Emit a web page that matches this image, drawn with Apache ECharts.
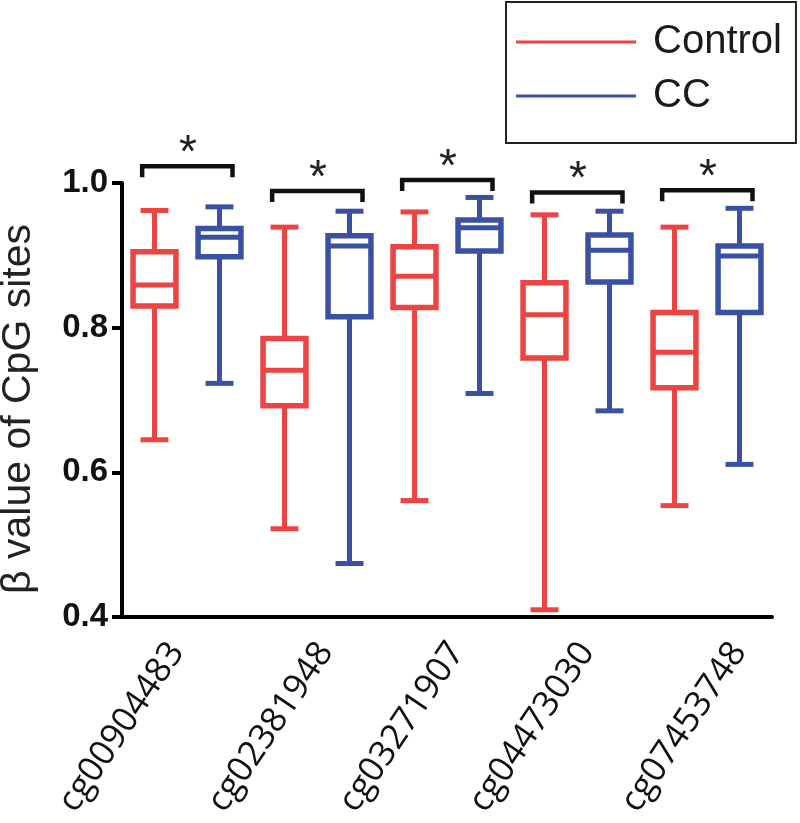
<!DOCTYPE html>
<html><head><meta charset="utf-8">
<script src="https://cdn.jsdelivr.net/npm/echarts@6/dist/echarts.min.js"></script>
<style>html,body{margin:0;padding:0;background:#fff}#c{width:800px;height:823px}</style>
</head><body><div id="c"></div>
<script>
// Categories (CpG sites)
const categories = ['cg00904483','cg02381948','cg03271907','cg04473030','cg07453748'];
// Box stats per category: [min, Q1, median, Q3, max]
const controlMin    = [0.645, 0.522, 0.561, 0.410, 0.554];
const controlQ1     = [0.830, 0.692, 0.828, 0.758, 0.717];
const controlMedian = [0.859, 0.741, 0.871, 0.818, 0.766];
const controlQ3     = [0.905, 0.785, 0.912, 0.862, 0.821];
const controlMax    = [0.962, 0.939, 0.960, 0.956, 0.939];
const ccMin    = [0.723, 0.474, 0.709, 0.685, 0.611];
const ccQ1     = [0.898, 0.815, 0.906, 0.863, 0.821];
const ccMedian = [0.925, 0.913, 0.938, 0.907, 0.899];
const ccQ3     = [0.937, 0.927, 0.949, 0.928, 0.913];
const ccMax    = [0.967, 0.961, 0.980, 0.961, 0.965];
// Significance brackets (height in β units) and labels
const bracketLevel = [1.023, 0.989, 1.004, 0.987, 0.990];
const bracketLabel = ['*','*','*','*','*'];
// Y ticks
const yMin = 0.4, yMax = 1.0, yStep = 0.2;

const RED = '#EC4343', BLUE = '#3A50A3';
// layout: small horizontal nudges of the rotated tick labels (in category widths)
const labelNudge = [-0.08, 0.067, 0.077, 0.077, 0.246];

function rows(mn, q1, md, q3, mx) {
  return categories.map((c, i) => [i, mn[i], q1[i], md[i], q3[i], mx[i]]);
}

function boxRenderer(side, color) {
  return function (params, api) {
    const cat = api.value(0);
    const band = api.size([1, 0])[0];
    const cx = api.coord([cat, yMin])[0] + side * band * 0.25;
    const y = v => api.coord([cat, v])[1];
    const bw = band * 0.33, cw = band * 0.215;
    const yMn = y(api.value(1)), yQ1 = y(api.value(2)), yMd = y(api.value(3)),
          yQ3 = y(api.value(4)), yMx = y(api.value(5));
    const st = { stroke: color, lineWidth: 5, fill: null };
    return {
      type: 'group',
      children: [
        { type: 'line', shape: { x1: cx, y1: yMx, x2: cx, y2: yQ3 }, style: st },
        { type: 'line', shape: { x1: cx, y1: yQ1, x2: cx, y2: yMn }, style: st },
        { type: 'line', shape: { x1: cx - cw / 2, y1: yMx, x2: cx + cw / 2, y2: yMx }, style: st },
        { type: 'line', shape: { x1: cx - cw / 2, y1: yMn, x2: cx + cw / 2, y2: yMn }, style: st },
        { type: 'rect', shape: { x: cx - bw / 2, y: yQ3, width: bw, height: yQ1 - yQ3 },
          style: { stroke: color, lineWidth: 5.5, fill: '#fff' } },
        { type: 'line', shape: { x1: cx - bw / 2, y1: yMd, x2: cx + bw / 2, y2: yMd }, style: st }
      ]
    };
  };
}

const chart = echarts.init(document.getElementById('c'), null, { renderer: 'canvas' });
chart.setOption({
  animation: false,
  backgroundColor: '#fff',
  grid: { left: 122, top: 183, width: 650, height: 434, containLabel: false, outerBoundsMode: 'none' },
  legend: {
    data: ['Control', 'CC'],
    orient: 'vertical',
    left: 506, top: 2,
    padding: [20, 14, 27, 10],
    borderColor: '#222', borderWidth: 2,
    itemGap: 14,
    itemWidth: 120, itemHeight: 3,
    icon: 'rect',
    textStyle: { fontSize: 40, fontFamily: 'Liberation Sans', color: '#1a1a1a', padding: [0, 0, 0, 12] }
  },
  xAxis: [{
    type: 'category',
    data: categories,
    position: 'bottom',
    axisLine: { onZero: false, lineStyle: { color: '#000', width: 4 } },
    axisTick: { show: false },
    axisLabel: { show: false }
  }, {
    type: 'value',
    position: 'bottom',
    min: -0.5, max: categories.length - 0.5,
    axisLine: { show: false, onZero: false },
    axisTick: { show: false },
    splitLine: { show: false },
    axisLabel: {
      rotate: 56, fontSize: 35, fontFamily: 'Open Sans', color: '#111', margin: 29,
      customValues: categories.map((c, i) => i + labelNudge[i]),
      formatter: v => categories[Math.round(v)] || ''
    }
  }],
  yAxis: {
    type: 'value', min: yMin, max: yMax, interval: yStep,
    name: 'β value of CpG sites',
    nameLocation: 'middle', nameRotate: 90, nameGap: 83,
    nameTextStyle: { fontSize: 41, fontFamily: 'Liberation Sans', color: '#222', padding: [0, 18, 0, 0] },
    splitLine: { show: false },
    axisLine: { show: true, onZero: false, lineStyle: { color: '#000', width: 4 } },
    axisTick: { show: true, length: 10, lineStyle: { color: '#000', width: 4 } },
    axisLabel: { fontSize: 33, fontWeight: 'bold', fontFamily: 'Liberation Sans', color: '#111', margin: 14,
      formatter: v => v.toFixed(1) }
  },
  series: [
    { name: 'Control', type: 'custom', itemStyle: { color: RED },
      encode: { x: 0, y: [1, 2, 3, 4, 5] },
      data: rows(controlMin, controlQ1, controlMedian, controlQ3, controlMax),
      renderItem: boxRenderer(-1, RED), clip: false },
    { name: 'CC', type: 'custom', itemStyle: { color: BLUE },
      encode: { x: 0, y: [1, 2, 3, 4, 5] },
      data: rows(ccMin, ccQ1, ccMedian, ccQ3, ccMax),
      renderItem: boxRenderer(1, BLUE), clip: false },
    { name: 'sig', type: 'custom', clip: false, silent: true,
      encode: { x: 0, y: 1 },
      data: categories.map((c, i) => [i, bracketLevel[i]]),
      renderItem: function (params, api) {
        const cat = api.value(0);
        const band = api.size([1, 0])[0];
        const p = api.coord([cat, api.value(1)]);
        const cx = p[0], by = p[1];
        const l = cx - band * 0.345, r = cx + band * 0.35;
        return {
          type: 'group',
          children: [
            { type: 'polyline', shape: { points: [[l, by + 11], [l, by], [r, by], [r, by + 11]] },
              style: { stroke: '#111', lineWidth: 4.5, fill: null } },
            { type: 'text', style: { x: cx + 1, y: by - 12, text: bracketLabel[params.dataIndex],
              fontSize: 46, fontFamily: 'Liberation Sans', fill: '#222', align: 'center', verticalAlign: 'middle' } }
          ]
        };
      } }
  ]
});
</script></body></html>
